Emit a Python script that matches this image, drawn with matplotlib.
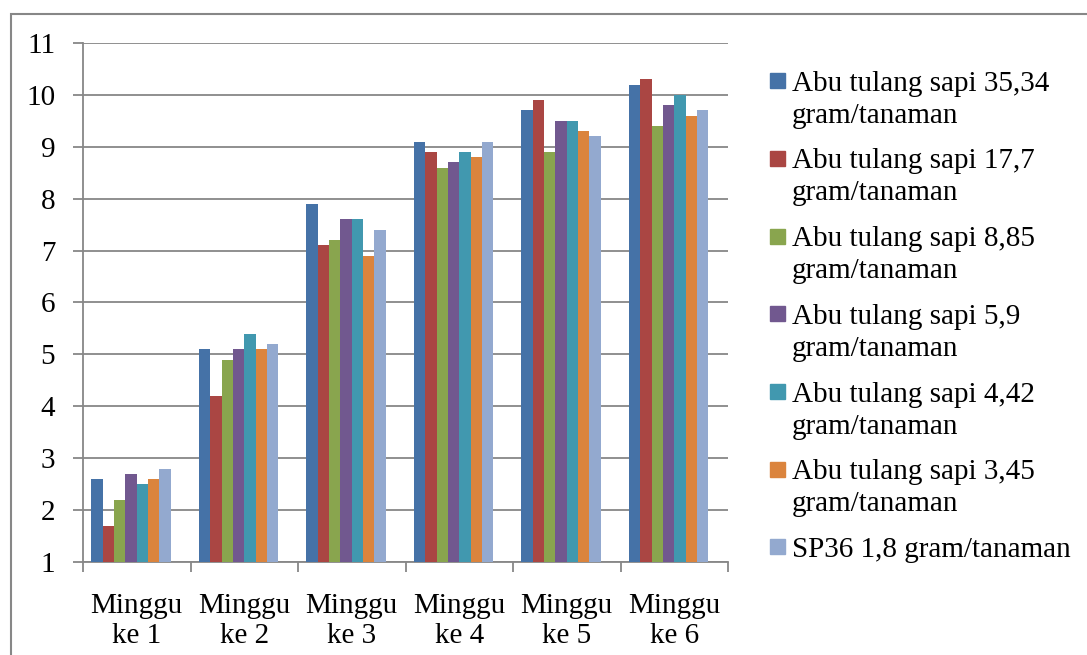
import matplotlib

matplotlib.use("Agg")
import matplotlib.pyplot as plt
import numpy as np
from matplotlib.patches import Rectangle

# data
weeks = ["Minggu\nke 1", "Minggu\nke 2", "Minggu\nke 3", "Minggu\nke 4", "Minggu\nke 5", "Minggu\nke 6"]
series_labels = [
    "Abu tulang sapi 35,34\ngram/tanaman",
    "Abu tulang sapi 17,7\ngram/tanaman",
    "Abu tulang sapi 8,85\ngram/tanaman",
    "Abu tulang sapi 5,9\ngram/tanaman",
    "Abu tulang sapi 4,42\ngram/tanaman",
    "Abu tulang sapi 3,45\ngram/tanaman",
    "SP36 1,8 gram/tanaman",
]
abu_35_34 = [2.6, 5.1, 7.9, 9.1, 9.7, 10.2]
abu_17_7 = [1.7, 4.2, 7.1, 8.9, 9.9, 10.3]
abu_8_85 = [2.2, 4.9, 7.2, 8.6, 8.9, 9.4]
abu_5_9 = [2.7, 5.1, 7.6, 8.7, 9.5, 9.8]
abu_4_42 = [2.5, 5.4, 7.6, 8.9, 9.5, 10.0]
abu_3_45 = [2.6, 5.1, 6.9, 8.8, 9.3, 9.6]
sp36_1_8 = [2.8, 5.2, 7.4, 9.1, 9.2, 9.7]
series = [abu_35_34, abu_17_7, abu_8_85, abu_5_9, abu_4_42, abu_3_45, sp36_1_8]

colors = ["#4572A7", "#AA4643", "#89A54E", "#71588F", "#4198AF", "#DB843D", "#93A9CF"]
GRID = "#878787"

W, H = 1087, 655
plt.rcParams["font.family"] = ["Liberation Serif", "DejaVu Serif"]
FS = 21

fig = plt.figure(figsize=(W / 100, H / 100), dpi=100)


def fx(px):
    return px / W


def fy(py):
    return 1 - py / H


# outer chart frame (runs off the right and bottom edges)
fig.patches.append(Rectangle((fx(11), fy(2000)), 2, fy(14) - fy(2000),
                             transform=fig.transFigure, fill=False,
                             edgecolor=GRID, lw=1.5))

ax = fig.add_axes([fx(83), fy(562), fx(728) - fx(83), fy(43) - fy(562)])

n_slots = 8  # Excel leaves room for one empty slot in each cluster
w = 0.1057
start = (1 - n_slots * w) / 2
x = np.arange(len(weeks))
for j, (vals, c) in enumerate(zip(series, colors)):
    ax.bar(x + start + j * w, np.array(vals) - 1, bottom=1, width=w,
           align="edge", color=c, edgecolor="none", zorder=3)

ax.set_xlim(0, len(weeks))
ax.set_ylim(1, 11)
ax.set_yticks(range(1, 12))
ax.yaxis.grid(True, color=GRID, lw=1.3, zorder=0)
ax.tick_params(axis="y", length=7, width=1.3, color=GRID, pad=13, labelsize=FS)

ax.set_xticks(x + 0.5)
ax.set_xticklabels(weeks, linespacing=1.2, fontsize=FS)
ax.set_xticks(np.arange(len(weeks) + 1), minor=True)
ax.tick_params(axis="x", which="major", length=0, pad=22)
ax.tick_params(axis="x", which="minor", length=7, width=1.3, color=GRID)

for side in ("top", "right"):
    ax.spines[side].set_visible(False)
for side in ("left", "bottom"):
    ax.spines[side].set_color(GRID)
    ax.spines[side].set_linewidth(1.3)

# legend drawn by hand so the swatch sits on the first text line
for i, (lab, c) in enumerate(zip(series_labels, colors)):
    yc = 80.7 + 77.7 * i
    fig.patches.append(Rectangle((fx(770), fy(yc + 7.5)), fx(15), 15 / H,
                                 transform=fig.transFigure, color=c))
    for k, line in enumerate(lab.split("\n")):
        fig.text(fx(792), fy(yc + 10 + 32 * k), line, fontsize=FS,
                 va="baseline", ha="left")

fig.savefig("out.png", dpi=100)
